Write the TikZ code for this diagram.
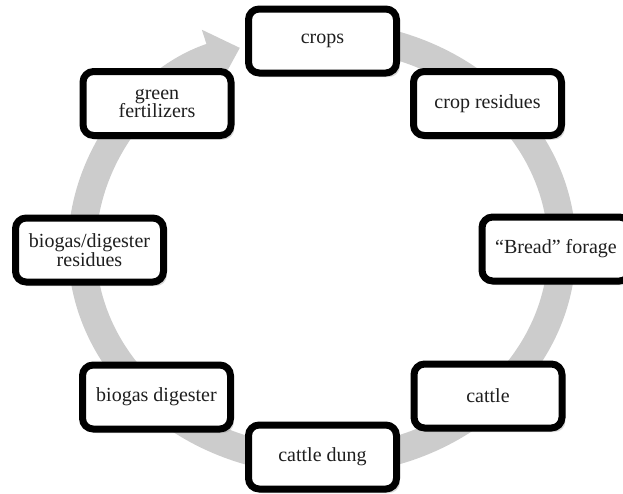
\documentclass[tikz,border=0pt]{standalone}
\usepackage{fontspec}
\setmainfont{Liberation Serif}
\usepackage{tikz}
\usetikzlibrary{arrows.meta, shadows}
\usepackage{xcolor}
\definecolor{ringgray}{RGB}{204,204,204}
\definecolor{labelgray}{RGB}{30,30,30}
\tikzset{
    stage/.style={draw=black, fill=white, line width=5.25pt, rounded corners=8pt,
        minimum width=111pt, minimum height=48pt, align=center, text=labelgray,
        font=\fontsize{15}{14}\selectfont,
        drop shadow={shadow xshift=2.5pt, shadow yshift=-3pt, opacity=0.3}},
    ringarrow/.style={draw=ringgray, line width=21pt, -{Triangle[length=23pt, width=42pt]}}
}

\begin{document}
\begin{tikzpicture}[x=0.75pt, y=0.75pt]
    \useasboundingbox (0,0) rectangle (623,-493);
    % the cycle ring, clockwise from the top
    \draw[ringarrow] (322,-35) arc[start angle=90, end angle=-250, x radius=240, y radius=213];

    \node[stage] (crops) at (322.5,-41) {crops};
    \node[stage] (residues) at (487.5,-103.5) {crop residues};
    \node[stage] (forage) at (556,-249) {“Bread” forage};
    \node[stage] (cattle) at (488,-396) {cattle};
    \node[stage] (dung) at (322.5,-457) {cattle dung};
    \node[stage] (digester) at (156.5,-397) {biogas digester};
    \node[stage] (digestate) at (89.5,-250) {biogas/digester\\residues};
    \node[stage] (fertilizer) at (157,-103.5) {green\\fertilizers};
\end{tikzpicture}
\end{document}
